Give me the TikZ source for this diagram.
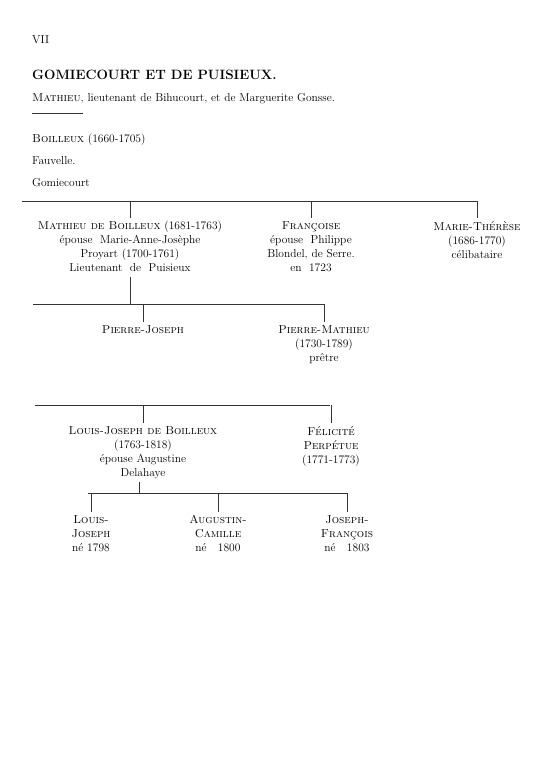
\documentclass[tikz,border=0pt]{standalone}
\usepackage{tikz}
\usetikzlibrary{calc}

\tikzset{
  txt/.style={inner sep=0pt, font=\fontsize{11.5}{14}\selectfont},
  person/.style={txt, align=center, anchor=north},
  rule/.style={line width=0.6pt, black!80},
  drop/.style={line width=0.6pt, black!80}
}

\begin{document}
\begin{tikzpicture}[x=1pt,y=-1pt]
  \useasboundingbox (0,0) rectangle (549,768);

  % en-tete
  \node[txt, anchor=base west] (page) at (32,44) {VII};
  \node[txt, anchor=base west, font=\fontsize{13.5}{15}\selectfont\bfseries] (titre) at (32,79) {GOMIECOURT ET DE PUISIEUX.};
  \node[txt, anchor=base west] (pere) at (32,101) {\textsc{Mathieu}, lieutenant de Bihucourt, et de Marguerite Gonsse.};
  \coordinate (t1) at (32,113);
  \coordinate (t2) at (83,113);
  \draw[rule] (t1) -- (t2);
  \node[txt, anchor=base west] (boil) at (32,142) {\textsc{Boilleux} (1660-1705)};
  \node[txt, anchor=base west] (fauv) at (32,164) {Fauvelle.};
  \node[txt, anchor=base west] (gomi) at (32,186) {Gomiecourt};

  % premiere generation
  \coordinate (r1a) at (22,201);
  \coordinate (r1b) at (477,201);
  \draw[rule] (r1a) -- (r1b);
  \node[person] (mathieu) at (130,221) {\textsc{Mathieu de Boilleux} (1681-1763)\\ \'epouse~~Marie-Anne-Jos\`ephe\\ Proyart (1700-1761)\\ Lieutenant~~de~~Puisieux};
  \node[person] (francoise) at (311,221) {\textsc{Fran\c{c}oise}\\ \'epouse~~Philippe\\ Blondel,~de~Serre.\\ en~~1723};
  \node[person] (mariet) at (477,221) {\textsc{Marie-Th\'er\`ese}\\ (1686-1770)\\ c\'elibataire};
  \foreach \p in {mathieu, francoise, mariet}
    \draw[drop] (\p.north |- r1a) -- ([yshift=3pt]\p.north);

  % deuxieme generation
  \coordinate (r2a) at (33,304);
  \coordinate (r2b) at (324,304);
  \draw[drop] ([yshift=-5pt]mathieu.south) -- (mathieu.south |- r2a);
  \draw[rule] (r2a) -- (r2b);
  \node[person] (pjoseph) at (143,325) {\textsc{Pierre-Joseph}};
  \node[person] (pmathieu) at (324,325) {\textsc{Pierre-Mathieu}\\ (1730-1789)\\ pr\^etre};
  \foreach \p in {pjoseph, pmathieu}
    \draw[drop] (\p.north |- r2a) -- ([yshift=3pt]\p.north);

  % troisieme generation
  \coordinate (r3a) at (35,405);
  \coordinate (r3b) at (330,405);
  \draw[rule] (r3a) -- (r3b);
  \node[person] (ljoseph) at (143,426) {\textsc{Louis-Joseph de Boilleux}\\ (1763-1818)\\ \'epouse Augustine\\ Delahaye};
  \node[person] (felicite) at (331,426) {\textsc{F\'elicit\'e}\\ \textsc{Perp\'etue}\\ (1771-1773)};
  \foreach \p in {ljoseph, felicite}
    \draw[drop] (\p.north |- r3a) -- ([yshift=3pt]\p.north);

  % quatrieme generation
  \coordinate (r4a) at (88,493);
  \coordinate (r4b) at (348,493);
  \draw[drop] ([xshift=-4pt,yshift=-3pt]ljoseph.south) -- ([xshift=-4pt]ljoseph.south |- r4a);
  \draw[rule] (r4a) -- (r4b);
  \node[person] (louis) at (91,515) {\textsc{Louis-}\\ \textsc{Joseph}\\ n\'e 1798};
  \node[person] (augustin) at (218,515) {\textsc{Augustin-}\\ \textsc{Camille}\\ n\'e~~~1800};
  \node[person] (josephf) at (347,515) {\textsc{Joseph-}\\ \textsc{Fran\c{c}ois}\\ n\'e~~~1803};
  \foreach \p in {louis, augustin, josephf}
    \draw[drop] (\p.north |- r4a) -- ([yshift=3pt]\p.north);
\end{tikzpicture}
\end{document}
